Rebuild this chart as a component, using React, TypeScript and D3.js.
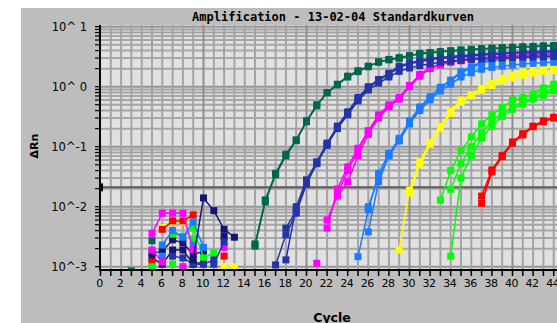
import React from "react";
import * as d3 from "d3";

type Pt = [number, number];

const title = "Amplification - 13-02-04 Standardkurven";
const xLabel = "Cycle";
const yLabel = "ΔRn";
const xTickLabels = d3.range(0, 45, 2);
const yTickValues = [10, 1, 0.1, 0.01, 0.001];
const yTickLabels = ["10^ 1", "10^ 0", "10^-1", "10^-2", "10^-3"];
const threshold = 0.021;

const teal1: Pt[] = [[3,0.00085],[5,0.0027],[15,0.0022],[16,0.012],[17,0.034],[18,0.07],[19,0.126],[20,0.26],[21,0.48],[22,0.79],[23,1.07],[24,1.45],[25,1.78],[26,2.15],[27,2.6],[28,2.8],[29,2.97],[30,3.25],[31,3.6],[32,3.7],[33,3.83],[34,3.98],[35,4.1],[36,4.2],[37,4.3],[38,4.4],[39,4.45],[40,4.55],[41,4.6],[42,4.7],[43,4.8],[44,4.85]];
const teal2: Pt[] = [[15,0.0024],[16,0.013],[17,0.036],[18,0.075],[19,0.13],[20,0.27],[21,0.5],[22,0.8],[23,1.1],[24,1.5],[25,1.85],[26,2.2],[27,2.55],[28,2.85],[29,3.05],[30,3.3],[31,3.5],[32,3.65],[33,3.8],[34,3.92],[35,4.05],[36,4.15],[37,4.25],[38,4.35],[39,4.42],[40,4.5],[41,4.58],[42,4.65],[43,4.72],[44,4.8]];

const dblue1: Pt[] = [[7,0.0015],[8,0.0014],[9,0.0011],[10,0.0011],[11,0.0013],[17,0.00107],[18,0.0034],[19,0.0078],[20,0.024],[21,0.052],[22,0.105],[23,0.21],[24,0.36],[25,0.62],[26,0.95],[27,1.28],[28,1.6],[29,2.1],[30,2.4],[31,2.6],[32,2.85],[33,2.95],[34,3.05],[35,3.15],[36,3.25],[37,3.35],[38,3.45],[39,3.5],[40,3.6],[41,3.65],[42,3.75],[43,3.8],[44,3.85]];
const dblue2: Pt[] = [[11,0.0011],[12,0.0026],[18,0.0013],[19,0.01],[20,0.028],[21,0.056],[22,0.115],[23,0.22],[24,0.38],[25,0.66],[26,1.0],[27,1.32],[28,1.68],[29,2.2],[30,2.5],[31,2.7],[32,2.95],[33,3.1],[34,3.2],[35,3.3],[36,3.4],[37,3.5],[38,3.6],[39,3.65],[40,3.72],[41,3.8],[42,3.85],[43,3.9],[44,3.95]];
const dblue3: Pt[] = [[18,0.0044],[19,0.0085],[20,0.026],[21,0.054],[22,0.11],[23,0.2],[24,0.34],[25,0.58],[26,0.88],[27,1.15],[28,1.45],[29,1.8],[30,2.05],[31,2.25],[32,2.4],[33,2.55],[34,2.65],[35,2.75],[36,2.85],[37,2.9],[38,2.95],[39,3.0],[40,3.05],[41,3.1],[42,3.12],[43,3.15],[44,3.2]];

const navy1: Pt[] = [[9,0.0013],[10,0.014],[11,0.0086],[12,0.0042],[13,0.0031]];
const navy2: Pt[] = [[5,0.0017],[6,0.0018],[7,0.0028],[8,0.0025],[9,0.0016],[10,0.0018],[12,0.0032]];
const navy3: Pt[] = [[5,0.0014],[6,0.0011],[7,0.0019],[8,0.0019],[9,0.0011],[10,0.0012]];

const mag1: Pt[] = [[5,0.0036],[6,0.0078],[7,0.0078],[8,0.0078],[9,0.0019],[22,0.0044],[23,0.0197],[24,0.046],[25,0.094],[26,0.185],[27,0.34],[28,0.5],[29,0.66],[30,1.05],[31,1.6],[32,2.1],[33,2.4],[34,2.65],[35,2.8],[36,2.95],[37,3.05],[38,3.15],[39,3.25],[40,3.3],[41,3.35],[42,3.4],[43,3.45],[44,3.5]];
const mag2: Pt[] = [[5,0.0019],[6,0.0012],[8,0.001],[12,0.0021],[22,0.006],[23,0.015],[24,0.026],[25,0.07],[26,0.16],[27,0.3],[28,0.46],[29,0.62],[30,1.0],[31,1.5],[32,2.0],[33,2.3],[34,2.55],[35,2.7],[36,2.85],[37,2.95],[38,3.05],[39,3.15],[40,3.2],[41,3.25],[42,3.3],[43,3.35],[44,3.4]];
const mag3: Pt[] = [[21,0.00114],[23,0.016],[24,0.04],[25,0.088],[26,0.175],[27,0.32],[28,0.48],[29,0.64],[30,1.02],[31,1.55],[32,2.05],[33,2.35],[34,2.6],[35,2.75],[36,2.9],[37,3.0],[38,3.1],[39,3.2],[40,3.25],[41,3.3],[42,3.35],[43,3.4],[44,3.45]];

const lblue1: Pt[] = [[6,0.0023],[7,0.004],[8,0.0031],[9,0.0056],[10,0.0021],[25,0.00147],[26,0.0088],[27,0.036],[28,0.077],[29,0.138],[30,0.27],[31,0.46],[32,0.68],[33,0.98],[34,1.29],[35,1.78],[36,2.15],[37,2.6],[38,2.86],[39,2.97],[40,3.16],[41,3.35],[42,3.6],[43,3.6],[44,3.7]];
const lblue2: Pt[] = [[6,0.0015],[9,0.0023],[26,0.0038],[27,0.026],[28,0.07],[29,0.13],[30,0.25],[31,0.44],[32,0.65],[33,0.95],[34,1.25],[35,1.7],[36,2.05],[37,2.45],[38,2.7],[39,2.85],[40,3.0],[41,3.15],[42,3.3],[43,3.35],[44,3.45]];
const lblue3: Pt[] = [[26,0.01],[27,0.03],[28,0.072],[29,0.125],[30,0.24],[31,0.4],[32,0.6],[33,0.85],[34,1.1],[35,1.45],[36,1.7],[37,1.95],[38,2.1],[39,2.2],[40,2.3],[41,2.4],[42,2.45],[43,2.5],[44,2.55]];

const yel1: Pt[] = [[6,0.0045],[7,0.0056],[8,0.0056],[9,0.0068],[12,0.001],[13,0.001],[29,0.0019],[30,0.019],[31,0.056],[32,0.117],[33,0.22],[34,0.39],[35,0.6],[36,0.73],[37,0.94],[38,1.14],[39,1.38],[40,1.57],[41,1.78],[42,1.9],[43,2.03],[44,2.1]];
const yel2: Pt[] = [[30,0.017],[31,0.05],[32,0.11],[33,0.2],[34,0.36],[35,0.55],[36,0.7],[37,0.88],[38,1.05],[39,1.25],[40,1.4],[41,1.55],[42,1.68],[43,1.8],[44,1.85]];

const grn1: Pt[] = [[7,0.0035],[8,0.0032],[9,0.0044],[10,0.0014],[11,0.0017],[33,0.0129],[34,0.04],[35,0.086],[36,0.146],[37,0.24],[38,0.34],[39,0.45],[40,0.6],[41,0.66],[42,0.75],[43,0.95],[44,1.1]];
const grn2: Pt[] = [[5,0.001],[7,0.0011],[9,0.0029],[34,0.0195],[35,0.053],[36,0.1],[37,0.17],[38,0.27],[39,0.36],[40,0.46],[41,0.56],[42,0.66],[43,0.8],[44,0.9]];
const grn3: Pt[] = [[34,0.0015],[35,0.03],[36,0.071],[37,0.138],[38,0.22],[39,0.32],[40,0.42],[41,0.52],[42,0.62],[43,0.72],[44,0.85]];

const red1: Pt[] = [[6,0.0042],[7,0.0058],[8,0.0058],[9,0.0073],[12,0.0015],[37,0.0114],[38,0.038],[39,0.068],[40,0.114],[41,0.157],[42,0.215],[43,0.26],[44,0.3]];
const red2: Pt[] = [[5,0.0012],[37,0.015],[38,0.041],[39,0.072],[40,0.12],[41,0.165],[42,0.22],[43,0.27],[44,0.31]];

const COL = {
  teal: "#006652",
  dblue: "#2433a8",
  navy: "#161670",
  mag: "#ff00ff",
  lblue: "#1c7cff",
  yel: "#ffff00",
  grn: "#00ff00",
  red: "#ff0000",
};

const series: { color: string; pts: Pt[] }[] = [
  { color: COL.navy, pts: navy2 },
  { color: COL.navy, pts: navy3 },
  { color: COL.yel, pts: yel2 },
  { color: COL.yel, pts: yel1 },
  { color: COL.red, pts: red2 },
  { color: COL.red, pts: red1 },
  { color: COL.grn, pts: grn3 },
  { color: COL.grn, pts: grn2 },
  { color: COL.grn, pts: grn1 },
  { color: COL.lblue, pts: lblue3 },
  { color: COL.lblue, pts: lblue2 },
  { color: COL.lblue, pts: lblue1 },
  { color: COL.mag, pts: mag3 },
  { color: COL.mag, pts: mag2 },
  { color: COL.mag, pts: mag1 },
  { color: COL.dblue, pts: dblue3 },
  { color: COL.dblue, pts: dblue2 },
  { color: COL.dblue, pts: dblue1 },
  { color: COL.teal, pts: teal2 },
  { color: COL.teal, pts: teal1 },
  { color: COL.navy, pts: navy1 },
];

const W = 557;
const H = 323;
const plotLeft = 100;
const plotTop = 25;
const plotBottom = 270;

function runs(pts: Pt[]): Pt[][] {
  const out: Pt[][] = [];
  let cur: Pt[] = [];
  pts.forEach((p, i) => {
    if (i > 0 && p[0] - pts[i - 1][0] > 1) {
      out.push(cur);
      cur = [];
    }
    cur.push(p);
  });
  if (cur.length) out.push(cur);
  return out;
}

export default function App() {
  const x = d3.scaleLinear().domain([0, 44]).range([100.5, 553.7]);
  const y = d3.scaleLog().domain([0.001, 10]).range([266.7, 26.7]);
  const line = d3
    .line<Pt>()
    .x((d) => x(d[0]))
    .y((d) => y(d[1]));

  const minorVals: number[] = [];
  [0.001, 0.01, 0.1, 1].forEach((d) => {
    for (let k = 2; k <= 9; k++) minorVals.push(d * k);
  });
  const allYTicks = [...minorVals, ...yTickValues];
  const gridCycles = d3.range(1, 46);
  const tickCycles = d3.range(0, 46);

  const sq = 7;

  return (
    <svg
      width={W}
      height={H}
      style={{ position: "absolute", left: 0, top: 0, background: "#ffffff" }}
    >
      <defs>
        <clipPath id="plotclip">
          <rect x={plotLeft} y={plotTop} width={W - plotLeft} height={plotBottom - plotTop} />
        </clipPath>
      </defs>
      <rect x={21} y={8} width={W - 21} height={H - 8} fill="#bdbdbd" />
      <rect x={plotLeft} y={plotTop} width={W - plotLeft} height={plotBottom - plotTop} fill="#e1e1e1" />

      <g clipPath="url(#plotclip)">
        {minorVals.map((v, i) => (
          <line key={"hm" + i} x1={plotLeft} x2={W} y1={y(v)} y2={y(v)} stroke="#a6a6a6" strokeWidth={2} />
        ))}
        {yTickValues.map((v, i) => (
          <line key={"hd" + i} x1={plotLeft} x2={W} y1={y(v)} y2={y(v)} stroke="#959595" strokeWidth={2} />
        ))}
        {gridCycles.map((c) => (
          <line
            key={"v" + c}
            x1={x(c)}
            x2={x(c)}
            y1={plotTop}
            y2={plotBottom}
            stroke={c % 10 === 0 ? "#8e8e8e" : "#a4a4a4"}
            strokeWidth={2}
          />
        ))}
        <line x1={plotLeft} x2={W} y1={y(threshold)} y2={y(threshold)} stroke="#5c5c5c" strokeWidth={2} />

        {series.map((s, si) => (
          <g key={"s" + si}>
            {runs(s.pts).map((r, ri) =>
              r.length > 1 ? (
                <path key={ri} d={line(r) || ""} fill="none" stroke={s.color} strokeWidth={1.5} />
              ) : null
            )}
            {s.pts.map((p, pi) => (
              <rect
                key={pi}
                x={x(p[0]) - sq / 2}
                y={y(p[1]) - sq / 2}
                width={sq}
                height={sq}
                fill={s.color}
              />
            ))}
          </g>
        ))}
      </g>

      {/* y axis */}
      <line x1={plotLeft} x2={plotLeft} y1={plotTop} y2={plotBottom + 1} stroke="#000" strokeWidth={2} />
      {allYTicks.map((v, i) => (
        <line key={"yt" + i} x1={95} x2={plotLeft} y1={y(v)} y2={y(v)} stroke="#000" strokeWidth={1.2} />
      ))}
      <rect x={plotLeft} y={y(threshold) - 4} width={3} height={8} fill="#000" />
      {yTickValues.map((v, i) => (
        <text
          key={"yl" + i}
          x={87}
          y={y(v) + 4}
          textAnchor="end"
          fontFamily="DejaVu Sans, sans-serif"
          fontSize={11.5}
          fill="#000"
        >
          {yTickLabels[i]}
        </text>
      ))}
      <text
        transform="translate(38,146) rotate(-90)"
        textAnchor="middle"
        fontFamily="DejaVu Sans, sans-serif"
        fontWeight="bold"
        fontSize={11}
        fill="#000"
      >
        {yLabel}
      </text>

      {/* x axis */}
      <line x1={plotLeft - 1} x2={W} y1={plotBottom} y2={plotBottom} stroke="#000" strokeWidth={2} />
      {tickCycles.map((c) => (
        <line key={"xt" + c} x1={x(c)} x2={x(c)} y1={plotBottom} y2={plotBottom + 6} stroke="#000" strokeWidth={1.5} />
      ))}
      {xTickLabels.map((c) => (
        <text
          key={"xl" + c}
          x={x(c) - 1}
          y={287}
          textAnchor="middle"
          fontFamily="DejaVu Sans, sans-serif"
          fontSize={11}
          letterSpacing={-0.5}
          fill="#000"
        >
          {c}
        </text>
      ))}
      <text
        x={332}
        y={322}
        textAnchor="middle"
        fontFamily="DejaVu Sans, sans-serif"
        fontWeight="bold"
        fontSize={12.5}
        fill="#000"
      >
        {xLabel}
      </text>

      <text
        x={333}
        y={21}
        textAnchor="middle"
        fontFamily="DejaVu Sans Mono, monospace"
        fontWeight="bold"
        fontSize={12}
        fill="#000"
      >
        {title}
      </text>
    </svg>
  );
}
